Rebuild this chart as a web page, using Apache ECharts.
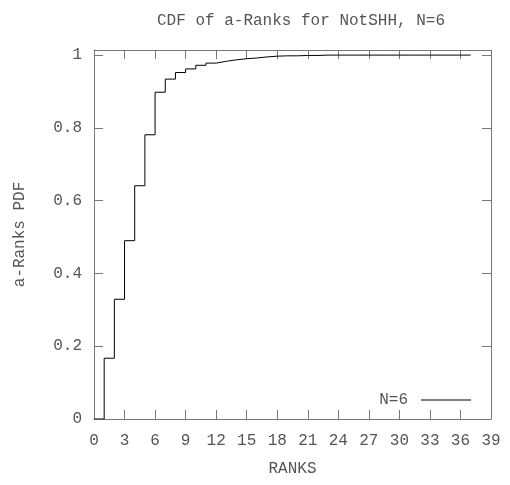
<!DOCTYPE html>
<html><head><meta charset="utf-8">
<script src="https://cdn.jsdelivr.net/npm/echarts@6/dist/echarts.min.js"></script>
<style>html,body{margin:0;padding:0;background:#fff}#c{width:510px;height:485px}</style>
</head><body><div id="c"></div>
<script>
const ranks = [0,1,2,3,4,5,6,7,8,9,10,11,12,13,14,15,16,17,18,19,20,21,22,23,24,25,26,27,28,29,30,31,32,33,34,35,36,37];
const cdf = [0,0.167,0.329,0.49,0.641,0.781,0.898,0.934,0.952,0.962,0.972,0.978,0.983,0.987,0.990,0.992,0.995,0.997,0.998,0.998,0.999,0.999,1,1,1,1,1,1,1,1,1,1,1,1,1,1,1,1];
const seriesName = 'N=6';
const titleText = 'CDF of a-Ranks for NotSHH, N=6';
const xName = 'RANKS';
const yName = 'a-Ranks PDF';

const font = 'Liberation Mono';
const fs = 16;
const txt = '#555';
const axisCol = '#777';
const chart = echarts.init(document.getElementById('c'));
const tick = {show:true, inside:true, length:9, lineStyle:{color:axisCol,width:1}};
const line = {show:true, onZero:false, lineStyle:{color:axisCol,width:1}};
chart.setOption({
  animation:false,
  title:{text:titleText, left:296, top:8, textAlign:'center', textStyle:{fontFamily:font,fontSize:fs,fontWeight:'normal',color:txt}},
  grid:{left:94, right:19, top:50, bottom:66},
  legend:{data:[seriesName], right:34, top:387, align:'right', icon:'rect', itemWidth:50, itemHeight:1, itemGap:10,
    textStyle:{fontFamily:font,fontSize:fs,color:txt,padding:[0,8,0,0]}},
  xAxis:[
    {type:'value', min:0, max:39, interval:3, name:xName, nameLocation:'middle', nameGap:42,
     nameTextStyle:{fontFamily:font,fontSize:fs,color:txt},
     axisLine:line, axisTick:tick, splitLine:{show:false},
     axisLabel:{fontFamily:font,fontSize:fs,color:txt,margin:14}},
    {type:'value', position:'top', min:0, max:39, interval:3,
     axisLine:line, axisTick:tick, splitLine:{show:false}, axisLabel:{show:false}}
  ],
  yAxis:[
    {type:'value', min:0, max:1.014, interval:0.2, name:yName, nameLocation:'middle', nameGap:66, nameRotate:90,
     nameTextStyle:{fontFamily:font,fontSize:fs,color:txt},
     axisLine:line, axisTick:tick, splitLine:{show:false},
     axisLabel:{fontFamily:font,fontSize:fs,color:txt,margin:12,interval:0,
       formatter:v=> v>1.0001 ? '' : String(Math.round(v*10)/10)}},
    {type:'value', position:'right', min:0, max:1.014, interval:0.2,
     axisLine:line, axisTick:tick, splitLine:{show:false}, axisLabel:{show:false}}
  ],
  series:[{name:seriesName, type:'line', step:'end', showSymbol:false, symbol:'none',
    data:ranks.map((r,i)=>[r,cdf[i]]), lineStyle:{color:'#000',width:1}, itemStyle:{color:'#000'}}]
});
</script></body></html>
